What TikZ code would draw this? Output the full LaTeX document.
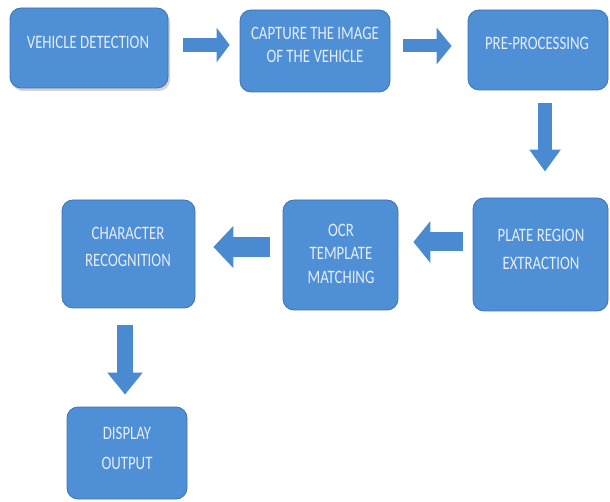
\documentclass[tikz,border=0pt]{standalone}
\usepackage{fontspec}
\setmainfont{Carlito}[FakeStretch=0.78]
\usetikzlibrary{arrows.meta,shadows}
\definecolor{boxfill}{HTML}{4F8FD5}
\definecolor{boxline}{HTML}{3D74B0}
\definecolor{arrowc}{HTML}{4A8AD0}
\definecolor{textc}{HTML}{E4EDF8}
\tikzset{
  stepbox/.style={rounded corners=11pt, fill=boxfill, draw=boxline, line width=0.8pt},
  boxtext/.style={text=textc, align=center, inner sep=0pt, font=\fontsize{19}{24}\selectfont},
  blockarrow/.style args={#1/#2/#3}{draw=arrowc, line width=#1, line cap=butt,
     -{Triangle[width=#2, length=#3]}},
}
\begin{document}
\begin{tikzpicture}[x=1pt,y=-1pt]
\useasboundingbox (0,0) rectangle (610,502);
% boxes
\path[stepbox, drop shadow={opacity=0.35, shadow xshift=2pt, shadow yshift=-3pt}]
  (10,8) rectangle (168,88);
\node[inner sep=0pt, minimum width=158pt, minimum height=80pt] (b1) at (89,48) {};
\node[stepbox, minimum width=150pt, minimum height=82pt] (b2) at (315,51) {};
\node[stepbox, minimum width=140pt, minimum height=80pt] (b3) at (538,50) {};
\node[stepbox, minimum width=135pt, minimum height=113pt] (b4) at (540.5,254.5) {};
\node[stepbox, minimum width=115pt, minimum height=110pt] (b5) at (340.5,255) {};
\node[stepbox, minimum width=133pt, minimum height=108pt] (b6) at (128.5,254) {};
\node[stepbox, minimum width=120pt, minimum height=92pt] (b7) at (127,453) {};
% texts
\node[boxtext] (t1) at (88,42) {VEHICLE DETECTION};
\node[boxtext, font=\fontsize{19}{23}\selectfont] (t2) at (315,45) {CAPTURE THE IMAGE\\OF THE VEHICLE};
\node[boxtext] (t3) at (537,43) {PRE-PROCESSING};
\node[boxtext, font=\fontsize{19}{28}\selectfont] (t4) at (541,249) {PLATE REGION\\EXTRACTION};
\node[boxtext, font=\fontsize{19}{23.5}\selectfont] (t5) at (341,253.5) {OCR\\TEMPLATE\\MATCHING};
\node[boxtext, font=\fontsize{19}{27}\selectfont] (t6) at (128,246.5) {CHARACTER\\RECOGNITION};
\node[boxtext, font=\fontsize{19}{30}\selectfont] (t7) at (127,448) {DISPLAY\\OUTPUT};
% arrows
\coordinate (a1s) at ([xshift=15pt]b1.east |- 0,45);
\coordinate (a1e) at ([xshift=-10pt]b2.west |- 0,45);
\draw[blockarrow=14pt/34pt/13pt] (a1s) -- (a1e);
\coordinate (a2s) at ([xshift=13pt]b2.east |- 0,46);
\coordinate (a2e) at ([xshift=-16pt]b3.west |- 0,46);
\draw[blockarrow=13pt/36pt/15pt] (a2s) -- (a2e);
\coordinate (a3s) at ([yshift=-13pt]b3.south -| 545,0);
\coordinate (a3e) at ([yshift=26pt]b4.north -| 545,0);
\draw[blockarrow=14pt/30pt/22pt] (a3s) -- (a3e);
\coordinate (a4s) at ([xshift=-10pt]b4.west |- 0,242);
\coordinate (a4e) at ([xshift=15pt]b5.east |- 0,242);
\draw[blockarrow=19pt/41pt/17pt] (a4s) -- (a4e);
\coordinate (a5s) at ([xshift=-13pt]b5.west |- 0,247);
\coordinate (a5e) at ([xshift=18pt]b6.east |- 0,247);
\draw[blockarrow=20pt/41pt/20pt] (a5s) -- (a5e);
\coordinate (a6s) at ([yshift=-17pt]b6.south -| 125,0);
\coordinate (a6e) at ([yshift=12pt]b7.north -| 125,0);
\draw[blockarrow=16pt/34pt/22pt] (a6s) -- (a6e);
\end{tikzpicture}
\end{document}
